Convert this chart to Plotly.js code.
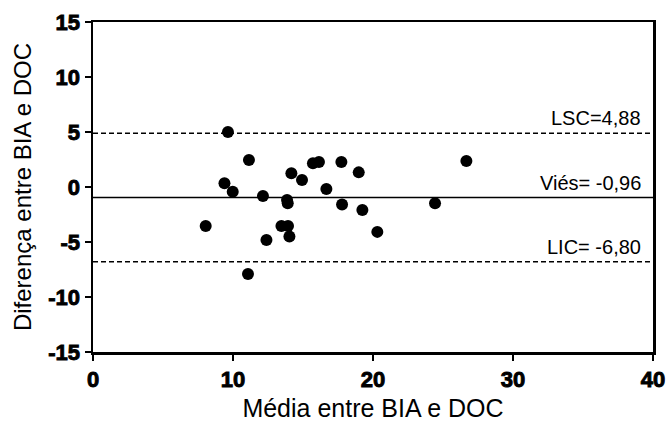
<!DOCTYPE html>
<html>
<head>
<meta charset="utf-8">
<script src="https://cdn.plot.ly/plotly-3.0.1.min.js"></script>
<style>
html,body{margin:0;padding:0;background:#fff;}
#chart{width:667px;height:422px;}
#chart .xtick text, #chart .ytick text{stroke:#000;stroke-width:0.9px;paint-order:stroke;}
</style>
</head>
<body>
<div id="chart"></div>
<script>
// Bland-Altman data: mean of BIA and DOC (x), difference BIA - DOC (y)
const meanValues = [9.64, 11.14, 9.39, 9.98, 12.14, 8.05, 12.39, 11.07, 26.67, 14.17, 14.93, 15.71, 16.14, 17.74, 18.98, 16.67, 13.86, 13.91, 17.79, 19.24, 24.43, 13.46, 13.93, 14.03, 20.31];
const diffValues = [5.01, 2.45, 0.34, -0.43, -0.82, -3.54, -4.81, -7.91, 2.36, 1.24, 0.63, 2.15, 2.27, 2.27, 1.33, -0.18, -1.18, -1.48, -1.60, -2.09, -1.48, -3.54, -3.54, -4.51, -4.08];
const bias = -0.96;
const upperLimit = 4.88;
const lowerLimit = -6.80;
const limitLabels = ["LSC=4,88", "Viés= -0,96", "LIC= -6,80"];
const xRange = [0, 40];
const yRange = [-15, 15];
const xTicks = [0, 10, 20, 30, 40];
const yTicks = [-15, -10, -5, 0, 5, 10, 15];

const FONT = 'Liberation Sans';
const TICKFONT = {family: 'Liberation Sans', size: 22, weight: 'bold', color: '#000'};

const traces = [
  {x: xRange, y: [upperLimit, upperLimit], mode: 'lines', line: {color: '#000', width: 1.5, dash: '5px,3px'}, hoverinfo: 'skip'},
  {x: xRange, y: [bias, bias], mode: 'lines', line: {color: '#000', width: 1.6}, hoverinfo: 'skip'},
  {x: xRange, y: [lowerLimit, lowerLimit], mode: 'lines', line: {color: '#000', width: 1.5, dash: '5px,3px'}, hoverinfo: 'skip'},
  {x: meanValues, y: diffValues, mode: 'markers', marker: {color: '#000', size: 12}}
];

const lineVals = [upperLimit, bias, lowerLimit];
const annotations = lineVals.map((v, i) => ({
  x: 39.3, y: v, xref: 'x', yref: 'y', text: limitLabels[i], showarrow: false,
  xanchor: 'right', yanchor: 'bottom', yshift: 2,
  font: {family: FONT, size: 20, color: '#000'}
}));

const layout = {
  width: 667, height: 422,
  margin: {l: 93.3, r: 13.7, t: 21.5, b: 69.5},
  paper_bgcolor: '#fff', plot_bgcolor: '#fff',
  showlegend: false,
  font: {family: FONT, color: '#000'},
  xaxis: {
    range: xRange, tickvals: xTicks, ticktext: xTicks.map(String),
    showgrid: false, zeroline: false, showline: true, linecolor: '#000', linewidth: 2.5, mirror: true,
    ticks: 'outside', ticklen: 6, tickwidth: 2.5, tickcolor: '#000',
    tickfont: TICKFONT,
    title: {text: 'Média entre BIA e DOC', font: {family: FONT, size: 25, color: '#000'}, standoff: 12}
  },
  yaxis: {
    range: yRange, tickvals: yTicks, ticktext: yTicks.map(String),
    showgrid: false, zeroline: false, showline: true, linecolor: '#000', linewidth: 2.5, mirror: true,
    ticks: 'outside', ticklen: 6, tickwidth: 2.5, tickcolor: '#000',
    tickfont: TICKFONT,
    title: {text: 'Diferença entre BIA e DOC', font: {family: FONT, size: 24, color: '#000'}, standoff: 10}
  },
  annotations: annotations
};

Plotly.newPlot('chart', traces, layout, {displayModeBar: false, staticPlot: true});
</script>
</body>
</html>
